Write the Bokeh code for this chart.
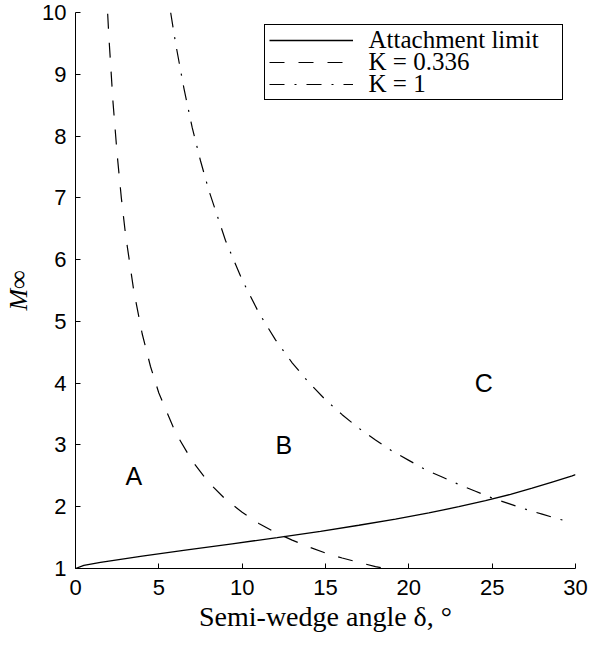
from bokeh.plotting import figure
from bokeh.models import Range1d, FixedTicker, Legend, LegendItem, ColumnDataSource, Label
from bokeh.core.properties import value
from bokeh.embed import file_html
from bokeh.resources import INLINE

# Attachment limit (detachment Mach number vs semi-wedge angle)
attach_delta = [0, 0.5, 1.5, 4.0, 6.7, 9.4, 12.1, 14.7, 17.0, 19.2, 21.2, 23.0, 24.6, 26.1, 27.4, 28.6, 29.8, 30.0]
attach_mach = [1.0, 1.05, 1.10, 1.20, 1.30, 1.40, 1.50, 1.60, 1.70, 1.80, 1.90, 2.00, 2.10, 2.20, 2.30, 2.40, 2.50, 2.52]

# K = 0.336
k336_delta = [1.93, 2.0, 2.25, 2.5, 2.75, 3.0, 3.5, 4.0, 4.5, 5.0, 6.0, 7.0, 8.0, 9.0, 10.0, 11.0, 12.0, 13.0, 14.0, 15.0, 16.0, 17.0, 18.0, 18.56]
k336_mach = [9.98, 9.62, 8.55, 7.70, 7.00, 6.41, 5.49, 4.80, 4.27, 3.84, 3.20, 2.74, 2.39, 2.12, 1.91, 1.73, 1.58, 1.46, 1.35, 1.25, 1.17, 1.10, 1.03, 1.00]

# K = 1
k1_delta = [5.71, 6.0, 6.5, 7.0, 7.5, 8.0, 9.0, 10.0, 11.0, 12.0, 13.0, 14.0, 15.0, 16.0, 17.0, 18.0, 19.0, 20.0, 21.0, 22.0, 23.0, 24.0, 25.0, 26.0, 27.0, 28.0, 29.0, 29.6]
k1_mach = [10.0, 9.51, 8.78, 8.14, 7.60, 7.12, 6.31, 5.67, 5.14, 4.70, 4.33, 4.01, 3.73, 3.49, 3.27, 3.08, 2.90, 2.75, 2.60, 2.48, 2.36, 2.25, 2.14, 2.05, 1.96, 1.88, 1.80, 1.76]

legend_labels = ["Attachment limit", "K = 0.336", "K = 1"]

# Region labels
region_text = ["A", "B", "C"]
region_delta = [3.5, 12.5, 24.5]
region_mach = [2.5, 3.0, 4.0]

x_ticks = [0, 5, 10, 15, 20, 25, 30]
y_ticks = [1, 2, 3, 4, 5, 6, 7, 8, 9, 10]
X_MIN, X_MAX, Y_MIN, Y_MAX = 0, 30, 1, 10

W, H = 590, 640
BL, BR, BT, BB = 75, 15, 12, 72
p = figure(width=W, height=H, x_range=Range1d(X_MIN, X_MAX), y_range=Range1d(Y_MIN, Y_MAX),
           output_backend="svg", toolbar_location=None,
           min_border_left=BL, min_border_right=BR, min_border_top=BT, min_border_bottom=BB)
p.background_fill_color = "white"
p.border_fill_color = "white"
p.outline_line_color = None
p.xgrid.visible = False
p.ygrid.visible = False

for ax, ticks in ((p.xaxis, x_ticks), (p.yaxis, y_ticks)):
    ax.ticker = FixedTicker(ticks=ticks)
    ax.major_tick_in = 5
    ax.major_tick_out = 0
    ax.minor_tick_in = 0
    ax.minor_tick_out = 0
    ax.axis_line_color = "black"
    ax.axis_line_width = 1
    ax.major_tick_line_color = "black"
    ax.major_label_text_font = "Liberation Sans"
    ax.major_label_text_font_size = "22px"
    ax.major_label_text_color = "black"
    ax.axis_label_text_font = "Liberation Serif"
    ax.axis_label_text_color = "black"

p.xaxis.major_label_standoff = 11
p.yaxis.major_label_standoff = 9
p.xaxis.axis_label = "Semi-wedge angle δ, °"
p.xaxis.axis_label_text_font_style = "normal"
p.xaxis.axis_label_text_font_size = "28px"
p.xaxis.axis_label_standoff = 3
p.yaxis.axis_label = "M∞"
p.yaxis.axis_label_text_font_style = "italic"
p.yaxis.axis_label_text_font_size = "26px"
p.yaxis.axis_label_standoff = 6

r1 = p.line(attach_delta, attach_mach, line_color="black", line_width=1.3)
r2 = p.line(k336_delta, k336_mach, line_color="black", line_width=1.2, line_dash="15 14")
r3 = p.line(k1_delta, k1_mach, line_color="black", line_width=1.2, line_dash="15 10 2 10")

src = ColumnDataSource(dict(x=region_delta, y=region_mach, t=region_text))
p.text(x="x", y="y", text="t", source=src, text_align="center", text_baseline="middle",
       text_font=value("Liberation Sans"), text_font_size="25px", text_color="black")

# Legend box with line samples (rows 22 px high); label texts drawn alongside
L_MARGIN, L_PAD, ROW_H, GLYPH_W, BOX_W = 12, 4, 22, 84, 297
legend = Legend(items=[LegendItem(label=" ", renderers=[r]) for r in (r1, r2, r3)],
                location="top_right")
legend.label_text_font_size = "10px"
legend.border_line_color = "black"
legend.border_line_alpha = 1
legend.border_line_width = 1
legend.background_fill_alpha = 0
legend.glyph_width = GLYPH_W
legend.glyph_height = ROW_H
legend.label_height = ROW_H
legend.label_standoff = 9
legend.label_width = BOX_W - 2 * L_PAD - GLYPH_W - 9
legend.padding = L_PAD
legend.spacing = 0
legend.margin = L_MARGIN
p.add_layout(legend)

# convert legend row positions (pixels within the frame) to data units
frame_w = W - BL - BR
frame_h = H - BT - BB
text_px = frame_w - L_MARGIN - BOX_W + L_PAD + GLYPH_W + 14
for i, lab in enumerate(legend_labels):
    row_px_from_top = L_MARGIN + L_PAD + ROW_H / 2 + i * ROW_H
    lx = X_MIN + (X_MAX - X_MIN) * text_px / frame_w
    ly = Y_MAX - (Y_MAX - Y_MIN) * row_px_from_top / frame_h
    p.add_layout(Label(x=lx, y=ly, text=lab,
                       text_font="Liberation Serif", text_font_size="25px", text_color="black",
                       text_align="left", text_baseline="middle"))

open("out.html", "w").write(file_html(p, INLINE))
